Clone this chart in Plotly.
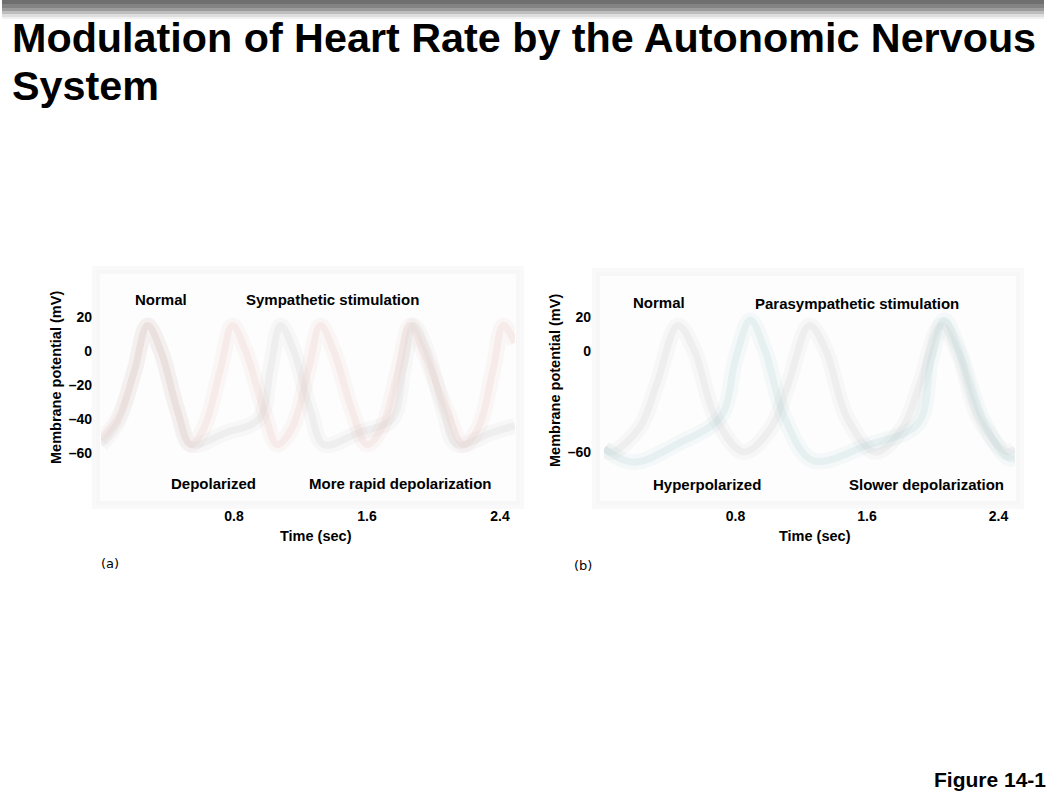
import plotly.graph_objects as go

W, H = 1046, 797

# ---------------- data ----------------
# Panel (a): normal vs sympathetic stimulation
t_normal_a = [0.0, 0.10, 0.20, 0.28, 0.36, 0.46, 0.54, 0.75, 0.95, 1.02, 1.08, 1.16, 1.26, 1.34,
              1.55, 1.75, 1.82, 1.88, 1.96, 2.06, 2.14, 2.35, 2.49]
v_normal_a = [-55, -42, -12, 15, 0, -35, -55, -48, -40, -10, 15, 0, -35, -55,
              -48, -40, -10, 15, 0, -35, -55, -48, -44]
t_symp = [0.0, 0.10, 0.20, 0.28, 0.36, 0.46, 0.54, 0.62, 0.72, 0.79, 0.87, 0.98, 1.06, 1.15,
          1.25, 1.32, 1.40, 1.51, 1.60, 1.69, 1.79, 1.86, 1.94, 2.08, 2.18, 2.27, 2.36, 2.42, 2.49]
v_symp = [-52, -40, -12, 15, 0, -35, -55, -45, -10, 15, 0, -35, -55, -45,
          -10, 15, 0, -35, -55, -45, -10, 15, 0, -35, -55, -45, -10, 15, 5]

# Panel (b): normal vs parasympathetic stimulation
t_normal_b = [0.0, 0.05, 0.22, 0.32, 0.45, 0.55, 0.68, 0.85, 1.02, 1.12, 1.25, 1.35, 1.48, 1.65,
              1.82, 1.92, 2.05, 2.15, 2.28, 2.45, 2.50]
v_normal_b = [-58, -60, -45, -20, 15, 0, -40, -60, -45, -20, 15, 0, -40, -60,
              -45, -20, 15, 0, -40, -60, -58]
t_para = [0.0, 0.18, 0.45, 0.71, 0.80, 0.89, 0.98, 1.10, 1.27, 1.60, 1.91, 1.99, 2.07, 2.16, 2.30, 2.45, 2.50]
v_para = [-58, -66, -55, -39, -5, 18, 0, -40, -65, -56, -43, -5, 18, 0, -40, -63, -64]

y_tickvals_a = [20, 0, -20, -40, -60]
y_ticktext_a = ["20", "0", "–20", "–40", "–60"]
y_tickvals_b = [20, 0, -60]
y_ticktext_b = ["20", "0", "–60"]
x_tickvals = [0.8, 1.6, 2.4]
x_ticktext = ["0.8", "1.6", "2.4"]


def px(x, y):
    return x / W, 1 - y / H


fig = go.Figure()

line_kw = dict(mode="lines", line_shape="spline", hoverinfo="skip", showlegend=False)
series = [
    (t_normal_a, v_normal_a, "x", "y", (200, 200, 200)),
    (t_symp, v_symp, "x", "y", (225, 190, 180)),
    (t_normal_b, v_normal_b, "x2", "y2", (200, 200, 200)),
    (t_para, v_para, "x2", "y2", (165, 205, 205)),
]
# soft, blurred-looking strokes: a wide faint halo plus a narrower core
for tx, vy, xa, ya, (r, g, b) in series:
    fig.add_trace(go.Scatter(x=tx, y=vy, xaxis=xa, yaxis=ya,
                             line=dict(color=f"rgba({r},{g},{b},0.10)", width=16), **line_kw))
    fig.add_trace(go.Scatter(x=tx, y=vy, xaxis=xa, yaxis=ya,
                             line=dict(color=f"rgba({r},{g},{b},0.18)", width=7), **line_kw))

tickfont = dict(family="Liberation Sans", size=14, color="black", weight="bold")

ax_a_l, ax_a_r = 101, 515
ax_b_l, ax_b_r = 604, 1015
ax_top, ax_bot = 280, 500

common_x = dict(tickvals=x_tickvals, ticktext=x_ticktext, showgrid=False, zeroline=False,
                showline=False, ticks="", tickfont=tickfont, ticklabelstandoff=6, fixedrange=True)
common_y = dict(showgrid=False, zeroline=False, showline=False, ticks="", tickfont=tickfont,
                fixedrange=True)

fig.update_layout(
    width=W, height=H,
    margin=dict(l=0, r=0, t=0, b=0),
    paper_bgcolor="white", plot_bgcolor="rgba(0,0,0,0)",
    xaxis=dict(domain=[ax_a_l / W, ax_a_r / W], range=[0, (ax_a_r - ax_a_l) / 166.25],
               anchor="y", **common_x),
    yaxis=dict(domain=[1 - ax_bot / H, 1 - ax_top / H], range=[-87.6, 41.8], anchor="x",
               tickvals=y_tickvals_a, ticktext=y_ticktext_a, ticklabelstandoff=8, **common_y),
    xaxis2=dict(domain=[ax_b_l / W, ax_b_r / W], range=[0, (ax_b_r - ax_b_l) / 164.4],
                anchor="y2", **common_x),
    yaxis2=dict(domain=[1 - ax_bot / H, 1 - ax_top / H], range=[-88.4, 41.9], anchor="x2",
                tickvals=y_tickvals_b, ticktext=y_ticktext_b, ticklabelstandoff=12, **common_y),
)

shapes = []
# header gradient bar
bands = [(0, 4, "#6f6f6f"), (4, 8, "#838383"), (8, 11, "#9c9c9c"), (11, 14, "#bdbdbd"),
         (14, 17, "#dedede"), (17, 19, "#f1f1f1")]
for y0, y1, c in bands:
    x0p, y0p = px(2, y0)
    x1p, y1p = px(1044, y1)
    shapes.append(dict(type="rect", xref="paper", yref="paper", x0=x0p, x1=x1p, y0=y1p, y1=y0p,
                       fillcolor=c, line=dict(width=0), layer="below"))
# faint image frames
for (l, t, r, b) in [(96, 270, 520, 505), (596, 272, 1020, 505)]:
    x0p, y0p = px(l, t)
    x1p, y1p = px(r, b)
    shapes.append(dict(type="rect", xref="paper", yref="paper", x0=x0p, x1=x1p, y0=y1p, y1=y0p,
                       fillcolor="rgba(0,0,0,0.008)", line=dict(color="rgba(0,0,0,0.025)", width=8),
                       layer="below"))
fig.update_layout(shapes=shapes)

annos = []


def add_text(text, x, y, size=15, bold=True, xanchor="center", yanchor="middle", angle=0,
             family="Liberation Sans"):
    xp, yp = px(x, y)
    annos.append(dict(text=text, x=xp, y=yp, xref="paper", yref="paper", showarrow=False,
                      xanchor=xanchor, yanchor=yanchor, textangle=angle,
                      font=dict(family=family, size=size, color="black",
                                weight="bold" if bold else "normal")))


# title
add_text("Modulation of Heart Rate by the Autonomic Nervous", 10, 38, size=41.3, xanchor="left")
add_text("System", 10, 86, size=41.3, xanchor="left")

# panel (a)
add_text("Normal", 161, 299)
add_text("Sympathetic stimulation", 332, 299)
add_text("Depolarized", 213, 483)
add_text("More rapid depolarization", 400, 483)
add_text("Membrane potential (mV)", 56, 378, size=14.5, angle=-90)
add_text("Time (sec)", 316, 536, size=14.5)
add_text("(a)", 110, 563, size=13, bold=False, family="DejaVu Sans")

# panel (b)
add_text("Normal", 659, 302)
add_text("Parasympathetic stimulation", 857, 304)
add_text("Hyperpolarized", 707, 485)
add_text("Slower depolarization", 926, 485)
add_text("Membrane potential (mV)", 555, 381, size=14.5, angle=-90)
add_text("Time (sec)", 815, 536, size=14.5)
add_text("(b)", 583, 565, size=13, bold=False, family="DejaVu Sans")

# figure label (clipped at slide edge)
add_text("Figure 14-16", 932, 779, size=21, xanchor="left")

fig.update_layout(annotations=annos)

fig.write_html("out.html")
